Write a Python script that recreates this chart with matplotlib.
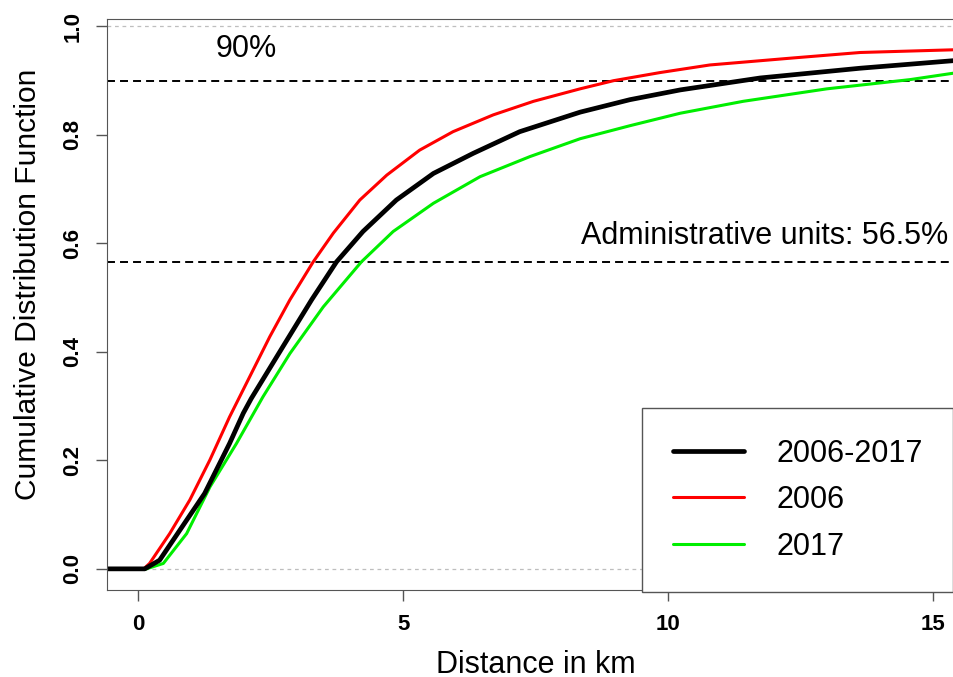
import matplotlib
matplotlib.use('Agg')
import matplotlib.pyplot as plt

plt.rcParams['font.family'] = ['Liberation Sans', 'DejaVu Sans']

# values (km, cumulative share)
all_x = [-0.593, 0.12, 0.40, 0.78, 1.25, 1.72, 1.98, 2.13, 2.73, 3.27, 3.74, 4.24, 4.87,
         5.57, 6.32, 7.20, 8.34, 9.28, 10.23, 11.74, 13.63, 15.4]
all_y = [0, 0, 0.016, 0.071, 0.139, 0.231, 0.287, 0.314, 0.410, 0.496, 0.566, 0.622, 0.680,
         0.729, 0.766, 0.806, 0.842, 0.865, 0.883, 0.905, 0.923, 0.937]

y06_x = [-0.593, 0.1, 0.21, 0.59, 0.97, 1.35, 1.72, 2.10, 2.48, 2.86, 3.30, 3.68, 4.18,
         4.69, 5.31, 5.94, 6.70, 7.46, 8.34, 8.97, 9.85, 10.79, 12.37, 13.63, 15.4]
y06_y = [0, 0, 0.010, 0.065, 0.127, 0.201, 0.280, 0.354, 0.428, 0.496, 0.566, 0.619, 0.680,
         0.726, 0.772, 0.806, 0.837, 0.862, 0.885, 0.900, 0.915, 0.929, 0.942, 0.952, 0.957]

y17_x = [-0.593, 0.15, 0.47, 0.91, 1.35, 1.85, 2.35, 2.86, 3.49, 4.21, 4.81, 5.57, 6.45,
         7.39, 8.34, 9.28, 10.23, 11.42, 13.0, 14.57, 15.4]
y17_y = [0, 0, 0.010, 0.065, 0.151, 0.231, 0.317, 0.397, 0.483, 0.566, 0.622, 0.674, 0.723,
         0.760, 0.793, 0.817, 0.840, 0.862, 0.885, 0.902, 0.914]

admin = 0.565
xticks = [0, 5, 10, 15]
yticks = [0.0, 0.2, 0.4, 0.6, 0.8, 1.0]

fig = plt.figure(figsize=(9.54, 6.77), dpi=100)
ax = fig.add_axes([0.1122, 0.1285, 0.8878, 0.8434])

ax.axhline(0, color='#bebebe', lw=0.9, ls=(0, (3, 3)))
ax.axhline(1, color='#bebebe', lw=0.9, ls=(0, (3, 3)))
ax.axhline(0.9, color='black', lw=1.4, ls=(0, (4.1, 2.6)))
ax.axhline(admin, color='black', lw=1.4, ls=(0, (4.1, 2.6)))

ax.plot(y06_x, y06_y, color='#ff0000', lw=2.2, label='2006', solid_joinstyle='round')
ax.plot(y17_x, y17_y, color='#00ee00', lw=2.2, label='2017', solid_joinstyle='round')
ax.plot(all_x, all_y, color='black', lw=3.4, label='2006-2017', solid_joinstyle='round')

ax.text(2.03, 0.958, '90%', fontsize=22, ha='center', va='center')
ax.text(15.30, 0.614, 'Administrative units: 56.5%', fontsize=22, ha='right', va='center')

ax.set_xlim(-0.593, 15.4)
ax.set_ylim(-0.039, 1.0137)
ax.set_xticks(xticks)
ax.set_xticklabels([str(t) for t in xticks], fontweight='bold', fontsize=16)
ax.set_yticks(yticks)
ax.set_yticklabels(['%.1f' % t for t in yticks], fontweight='bold', fontsize=16,
                   rotation=90, va='center')
ax.tick_params(length=8, width=1, color='#555555', pad=9)
for s in ['left', 'bottom', 'top']:
    ax.spines[s].set_color('#555555')
ax.spines['right'].set_visible(False)

fig.text(0.5618, 0.0059, 'Distance in km', fontsize=22, ha='center', va='baseline')
fig.text(0.0294, 0.5805, 'Cumulative Distribution Function', fontsize=21.5,
         ha='center', va='center', rotation=90)

h, l = ax.get_legend_handles_labels()
order = [2, 0, 1]
leg = ax.legend([h[i] for i in order], [l[i] for i in order], loc='upper left',
                bbox_to_anchor=(0.6317, 0.3187), borderaxespad=0, fontsize=22,
                handlelength=2.32, handletextpad=1.08, labelspacing=0.54,
                borderpad=1.0, fancybox=False, framealpha=1, edgecolor='#555555')
leg.get_frame().set_linewidth(1.0)
for line in leg.get_lines():
    line.set_solid_capstyle('round')

fig.savefig('out.png', dpi=100)
